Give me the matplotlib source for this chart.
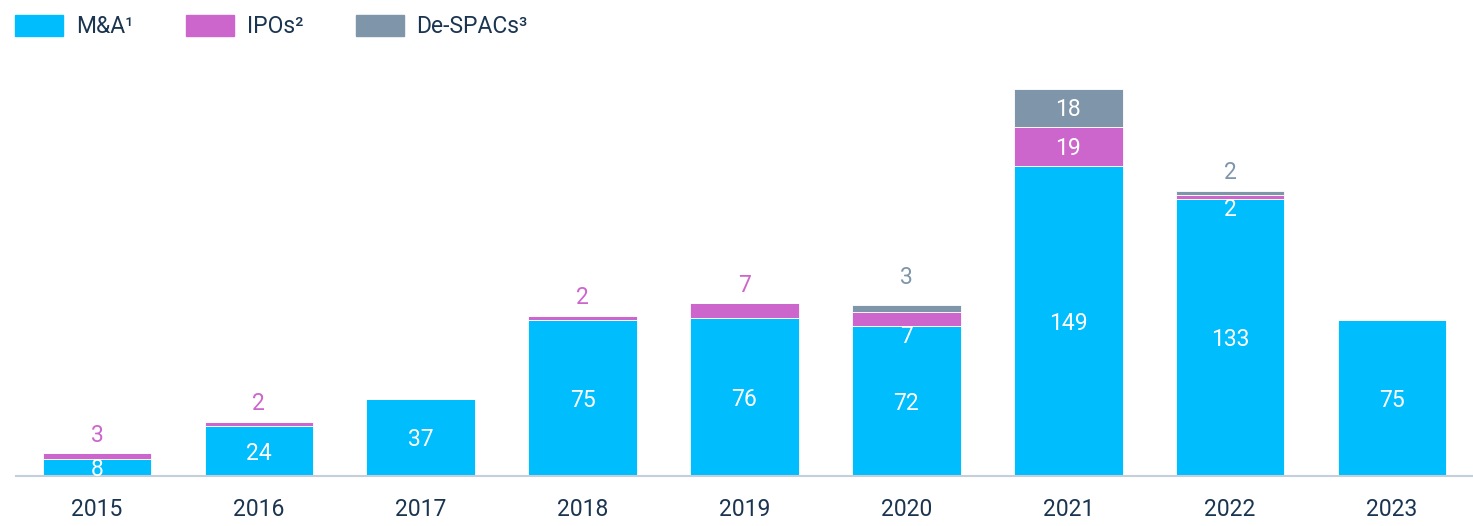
import matplotlib.pyplot as plt
import numpy as np
from matplotlib.patches import Patch

years = ["2015", "2016", "2017", "2018", "2019", "2020", "2021", "2022", "2023"]
mna = [8, 24, 37, 75, 76, 72, 149, 133, 75]
ipos = [3, 2, 0, 2, 7, 7, 19, 2, 0]
despacs = [0, 0, 0, 0, 0, 3, 18, 2, 0]

C_MNA = "#00bdfe"
C_IPO = "#cc66cc"
C_SPAC = "#7f96aa"
C_TEXT = "#1b3550"

plt.rcParams["font.family"] = ["Roboto", "DejaVu Sans"]

fig = plt.figure(figsize=(14.73, 5.26), dpi=100)
ax = fig.add_axes([16 / 1473, 50 / 526, 1 - 16 / 1473, 416 / 526])

x = np.arange(len(years))
w = 0.67
mna = np.array(mna)
ipos = np.array(ipos)
despacs = np.array(despacs)

ax.bar(x, mna, w, color=C_MNA, edgecolor="white", linewidth=0.6)
ax.bar(x, ipos, w, bottom=mna, color=C_IPO, edgecolor="white", linewidth=0.6)
ax.bar(x, despacs, w, bottom=mna + ipos, color=C_SPAC, edgecolor="white", linewidth=0.6)

fs = 16.5
for i in range(len(years)):
    # M&A value sits in the middle of its segment
    ax.annotate(str(mna[i]), (x[i], mna[i] / 2), xytext=(0, -1.5), textcoords="offset points",
                color="white", fontsize=fs, ha="center", va="center")
    top = mna[i] + ipos[i] + despacs[i]
    if ipos[i]:
        if despacs[i] == 0:
            ax.annotate(str(ipos[i]), (x[i], top), xytext=(0, 13), textcoords="offset points",
                        color=C_IPO, fontsize=fs, ha="center", va="center")
        elif ipos[i] >= 10:
            ax.annotate(str(ipos[i]), (x[i], mna[i] + ipos[i] / 2), xytext=(0, -1.5),
                        textcoords="offset points", color="white", fontsize=fs,
                        ha="center", va="center")
        else:
            # thin segment: label goes just under it, inside the M&A bar
            ax.annotate(str(ipos[i]), (x[i], mna[i]), xytext=(0, -7.5), textcoords="offset points",
                        color="white", fontsize=fs, ha="center", va="center")
    if despacs[i]:
        if despacs[i] >= 10:
            ax.annotate(str(despacs[i]), (x[i], mna[i] + ipos[i] + despacs[i] / 2),
                        xytext=(0, -1.5), textcoords="offset points", color="white",
                        fontsize=fs, ha="center", va="center")
        else:
            off = 20 if i == 5 else 13
            ax.annotate(str(despacs[i]), (x[i], top), xytext=(0, off), textcoords="offset points",
                        color=C_SPAC, fontsize=fs, ha="center", va="center")

ax.set_xlim(-0.5, 8.5)
ax.set_ylim(0, 200)
ax.set_xticks(x)
ax.set_xticklabels(years, fontsize=fs, color=C_TEXT)
ax.tick_params(axis="x", length=0, pad=16)
ax.set_yticks([])
for s in ["top", "right", "left"]:
    ax.spines[s].set_visible(False)
ax.spines["bottom"].set_color("#c3d0dc")
ax.spines["bottom"].set_linewidth(1.5)

handles = [Patch(color=C_MNA), Patch(color=C_IPO), Patch(color=C_SPAC)]
fig.legend(handles, ["M&A\u00b9", "IPOs\u00b2", "De-SPACs\u00b3"], loc="upper left",
           bbox_to_anchor=(0.0, 1.0), ncol=3, frameon=False, fontsize=fs,
           handlelength=2.1, handleheight=1.05, handletextpad=0.55, columnspacing=2.3,
           labelcolor=C_TEXT, borderaxespad=0.25)

fig.savefig("out.png", dpi=100)
